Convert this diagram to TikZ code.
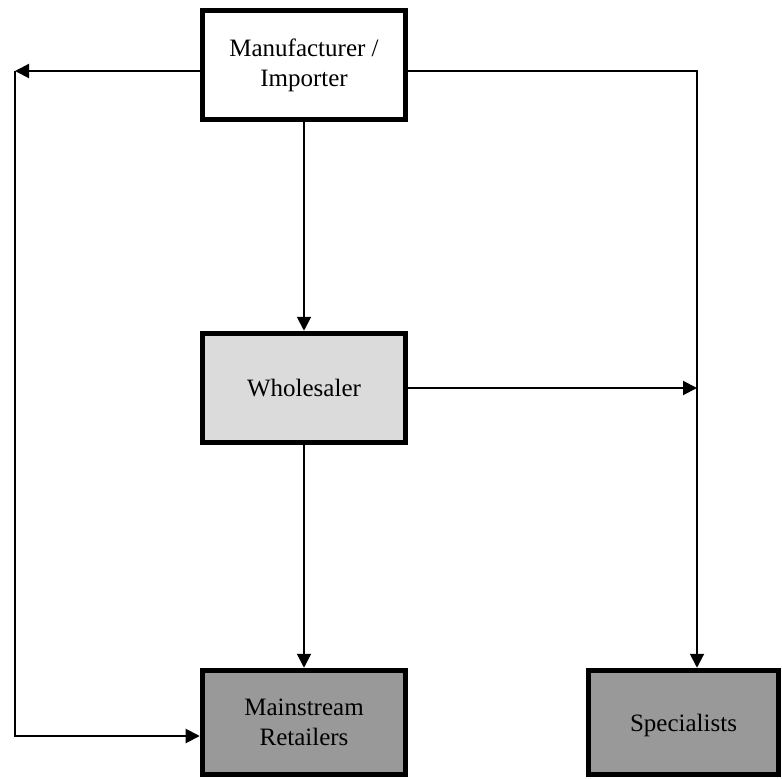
\documentclass[tikz,border=0pt]{standalone}
\usepackage{fontspec}
\setmainfont{Liberation Serif}
\usetikzlibrary{arrows.meta}
\tikzset{
  box/.style={draw=black, line width=2.75bp, inner sep=0pt, align=center, font=\fontsize{12.5bp}{15bp}\selectfont, minimum width=101.5bp, minimum height=54.5bp},
  conn/.style={draw=black, line width=1bp},
  arr/.style={conn, -{Triangle[length=7bp,width=7bp]}},
}
\begin{document}
\begin{tikzpicture}[x=0.5bp,y=-0.5bp]
\useasboundingbox (0,0) rectangle (782,779);
\node[box, fill=white] (mfr) at (304,65) {Manufacturer /\\Importer};
\node[box, fill=gray!28] (whol) at (304,388) {Wholesaler};
\node[box, fill=gray!80, minimum height=52bp] (ret) at (304,722.5) {Mainstream\\Retailers};
\node[box, fill=gray!80, minimum width=95bp, minimum height=52bp, text depth=-4bp] (spec) at (683.5,722.5) {Specialists};
\coordinate (L) at (15,71);
\coordinate (LB) at (15,736);
\coordinate (R) at (697,71);
\draw[arr] (mfr.west |- L) -- (L);
\draw[arr] (L) -- (LB) -- (ret.west |- LB);
\draw[arr] (mfr.east |- R) -- (R) -- (spec.north -| R);
\draw[arr] (whol.east) -- (R |- whol.east);
\draw[arr] (mfr.south) -- (whol.north);
\draw[arr] (whol.south) -- (ret.north);
\end{tikzpicture}
\end{document}
